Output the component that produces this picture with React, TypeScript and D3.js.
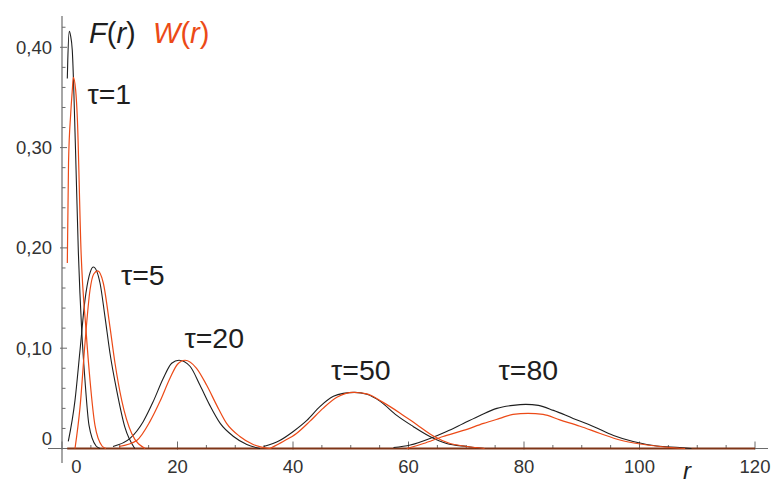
import React from "react";
import * as d3 from "d3";

// Distributions F(r) (black) and W(r) (red) for several values of τ: [r, value]
const F_tau1 = [[0.92, 0.369], [1.0, 0.387], [1.26, 0.416], [1.47, 0.412], [1.78, 0.397], [2.34, 0.298], [2.82, 0.198], [3.41, 0.118], [3.98, 0.068], [4.68, 0.023], [5.9, 0.0025], [6.6, 0]];
const W_tau1 = [[0.92, 0.185], [1.13, 0.285], [1.51, 0.334], [1.78, 0.357], [1.96, 0.37], [2.37, 0.357], [2.65, 0.33], [3.29, 0.198], [4.16, 0.118], [4.85, 0.068], [5.71, 0.023], [6.93, 0.0025], [7.6, 0]];
const F_tau5 = [[1.09, 0.007], [2.25, 0.048], [3.12, 0.098], [3.98, 0.148], [4.7, 0.172], [5.42, 0.181], [6.58, 0.165], [7.45, 0.131], [8.31, 0.095], [9.47, 0.058], [10.9, 0.021], [12.6, 0]];
const W_tau5 = [[2.25, 0], [3.12, 0.041], [3.98, 0.105], [4.85, 0.158], [5.5, 0.174], [6.18, 0.177], [7.15, 0.165], [8.31, 0.121], [9.18, 0.085], [10.34, 0.048], [12.07, 0.015], [14.4, 0]];
const F_tau20 = [[8.83, 0.002], [11.77, 0.01], [14.08, 0.027], [15.81, 0.047], [17.54, 0.07], [18.99, 0.085], [20.26, 0.088], [22.16, 0.082], [23.9, 0.063], [25.6, 0.043], [27.4, 0.025], [29.7, 0.012], [32.0, 0.004], [34.3, 0]];
const W_tau20 = [[9.87, 0.002], [12.94, 0.008], [15.24, 0.027], [16.97, 0.047], [18.7, 0.07], [20.0, 0.084], [21.3, 0.088], [23.3, 0.08], [25.06, 0.063], [26.8, 0.043], [28.5, 0.025], [30.8, 0.012], [33.1, 0.004], [36.0, 0]];
const F_tau50 = [[34.9, 0.002], [37.7, 0.008], [40.05, 0.017], [42.4, 0.028], [44.7, 0.042], [47.0, 0.052], [48.7, 0.055], [50.7, 0.056], [52.8, 0.054], [55.1, 0.047], [57.96, 0.033], [60.8, 0.022], [63.7, 0.012], [66.6, 0.005], [70.1, 0.002], [73.2, 0]];
const W_tau50 = [[36.0, 0], [38.3, 0.007], [40.6, 0.015], [42.9, 0.027], [45.2, 0.04], [47.6, 0.051], [50.4, 0.056], [52.8, 0.0545], [55.6, 0.046], [58.5, 0.0355], [61.4, 0.024], [64.3, 0.0125], [67.2, 0.005], [69.5, 0.0025], [73.2, 0]];
const F_tau80 = [[57.4, 0.001], [60.3, 0.0035], [63.7, 0.01], [66.6, 0.017], [69.5, 0.025], [72.4, 0.033], [75.3, 0.04], [78.1, 0.043], [80.3, 0.044], [82.5, 0.043], [85.1, 0.038], [88.5, 0.03], [92.0, 0.022], [95.5, 0.013], [98.9, 0.007], [103.0, 0.0025], [107.0, 0.001], [109, 0]];
const W_tau80 = [[59.7, 0], [62.6, 0.005], [66.0, 0.012], [69.5, 0.018], [73.0, 0.025], [75.8, 0.03], [78.1, 0.034], [80.7, 0.035], [83.3, 0.034], [86.2, 0.0285], [89.7, 0.0222], [93.2, 0.015], [96.6, 0.0085], [100.1, 0.0045], [103.6, 0.002], [107.9, 0]];

const fCurves = [F_tau1, F_tau5, F_tau20, F_tau50, F_tau80];
const wCurves = [W_tau1, W_tau5, W_tau20, W_tau50, W_tau80];

const tauLabels = ["τ=1", "τ=5", "τ=20", "τ=50", "τ=80"];
// label anchors (left, baseline) in data coordinates
const tauLabelAnchors = [[4.4, 0.343], [10.2, 0.163], [21.2, 0.1], [46.6, 0.068], [75.6, 0.068]];

const xTicks = [0, 20, 40, 60, 80, 100, 120];
const yTicks = [0, 0.1, 0.2, 0.3, 0.4];

const BLACK = "#1e1e1e";
const RED = "#ec4a17";
const AXIS = "#6b6b6b";
const FONT = "'Liberation Sans', Arial, Helvetica, sans-serif";

export default function App() {
  const x = d3.scaleLinear().domain([0, 120]).range([62, 755]);
  const y = d3.scaleLinear().domain([0, 0.4]).range([448.5, 47.3]);

  const line = d3
    .line<number[]>()
    .x((d) => x(d[0]))
    .y((d) => y(d[1]))
    .curve(d3.curveMonotoneX);

  const xMinor = d3.range(0, 121, 5).filter((v) => v % 20 !== 0);
  const yMinor = d3.range(0.02, 0.43, 0.02).filter((v) => Math.abs(v * 10 - Math.round(v * 10)) > 1e-6);

  const fmtY = (v: number) => (v === 0 ? "0" : d3.format(".2f")(v).replace(".", ","));

  const x0 = x(0);
  const y0 = y(0);

  return (
    <svg
      width={771}
      height={486}
      style={{ position: "absolute", left: 0, top: 0, background: "#fff" }}
      fontFamily={FONT}
    >
      {/* axes */}
      <line x1={x0} x2={x0} y1={16} y2={463} stroke={AXIS} strokeWidth={1.2} />
      <line x1={48} x2={768} y1={y0} y2={y0} stroke={AXIS} strokeWidth={1.2} />

      {/* y ticks */}
      {yTicks.map((t) => (
        <line key={"yt" + t} x1={x0 - 2} x2={x0 + 5} y1={y(t)} y2={y(t)} stroke={AXIS} strokeWidth={1} />
      ))}
      {yMinor.map((t) => (
        <line key={"ym" + t} x1={x0} x2={x0 + 3.5} y1={y(t)} y2={y(t)} stroke={AXIS} strokeWidth={1} />
      ))}
      {yTicks.map((t) => (
        <text
          key={"yl" + t}
          x={52}
          y={t === 0 ? y(t) - 10 : y(t)}
          textAnchor="end"
          dominantBaseline="central"
          fontSize={18.5}
          fill="#333"
        >
          {fmtY(t)}
        </text>
      ))}

      {/* x ticks */}
      {xTicks.map((t) => (
        <line key={"xt" + t} x1={x(t)} x2={x(t)} y1={y0 - 7} y2={y0 + 1} stroke={AXIS} strokeWidth={1} />
      ))}
      {xMinor.map((t) => (
        <line key={"xm" + t} x1={x(t)} x2={x(t)} y1={y0 - 3.5} y2={y0} stroke={AXIS} strokeWidth={1} />
      ))}
      {xTicks.map((t) => (
        <text
          key={"xl" + t}
          x={t === 0 ? x(t) + 14.5 : x(t)}
          y={473}
          textAnchor="middle"
          fontSize={18.5}
          fill="#333"
        >
          {t}
        </text>
      ))}

      {/* overlapping zero tails of all curves */}
      <line x1={x(0.9)} x2={x(120)} y1={y0} y2={y0} stroke="#7e3517" strokeWidth={2.2} />

      {/* curves */}
      {fCurves.map((c, i) => (
        <path key={"f" + i} d={line(c) || ""} fill="none" stroke={BLACK} strokeWidth={1.1} />
      ))}
      {wCurves.map((c, i) => (
        <path key={"w" + i} d={line(c) || ""} fill="none" stroke={RED} strokeWidth={1.2} />
      ))}

      {/* τ labels */}
      {tauLabels.map((s, i) => (
        <text
          key={"tl" + i}
          x={x(tauLabelAnchors[i][0])}
          y={y(tauLabelAnchors[i][1])}
          fontSize={28.5}
          fill="#1e1e1e"
        >
          {s}
        </text>
      ))}

      {/* legend */}
      <text x={89} y={43} fontSize={29} fill="#1e1e1e">
        <tspan fontStyle="italic">F</tspan>
        <tspan>(</tspan>
        <tspan fontStyle="italic">r</tspan>
        <tspan>)</tspan>
      </text>
      <text x={153} y={43} fontSize={29} fill={RED}>
        <tspan fontStyle="italic">W</tspan>
        <tspan>(</tspan>
        <tspan fontStyle="italic">r</tspan>
        <tspan>)</tspan>
      </text>

      {/* axis name */}
      <text x={683} y={479} fontSize={24} fontStyle="italic" fill="#1e1e1e">
        r
      </text>
    </svg>
  );
}
